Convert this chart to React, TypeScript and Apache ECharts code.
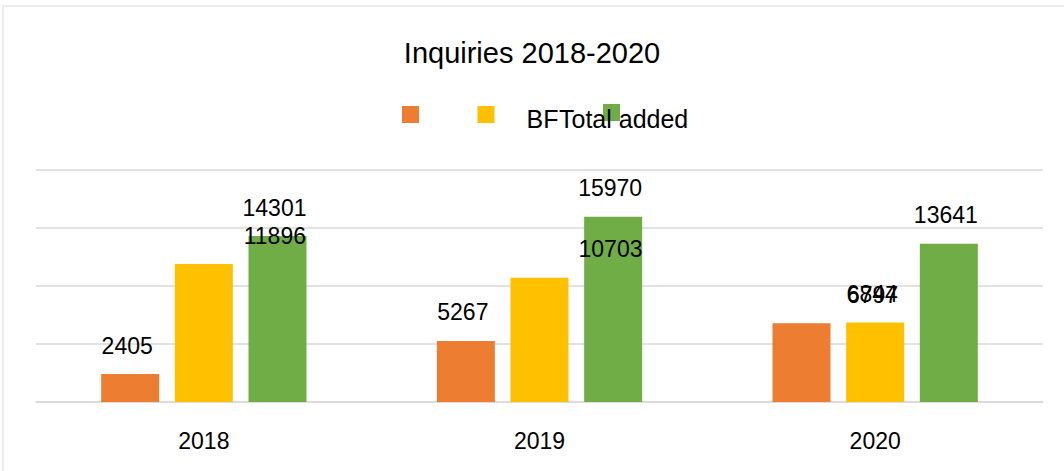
import React, { useEffect, useRef } from "react";
import * as echarts from "echarts";

const categories = ["2018", "2019", "2020"];
const seriesNames = ["", "BF", "Total added"];
const orangeValues = [2405, 5267, 6797];
const yellowValues = [11896, 10703, 6844];
const totalValues = [14301, 15970, 13641];
const colors = ["#ED7D31", "#FFC000", "#70AD47"];
const titleText = "Inquiries 2018-2020";

const FONT = "'Liberation Sans', Arial, sans-serif";

export default function App() {
  const ref = useRef<HTMLDivElement>(null);
  useEffect(() => {
    if (!ref.current) return;
    const chart = echarts.init(ref.current, undefined, { renderer: "svg" });
    const labelBase = {
      show: true,
      position: "top",
      distance: 17,
      fontSize: 23,
      fontFamily: FONT,
      color: "#000000",
    };
    const mk = (vals: number[], shifted: boolean[]) =>
      vals.map((v, i) => ({
        value: v,
        label: { offset: [shifted[i] ? 71 : -3, 0] },
      }));
    const seriesData = [
      mk(orangeValues, [false, false, true]),
      mk(yellowValues, [true, true, false]),
      mk(totalValues, [false, false, false]),
    ];
    chart.setOption({
      animation: false,
      backgroundColor: "#ffffff",
      title: {
        text: titleText,
        left: "center",
        top: 33,
        textStyle: { fontSize: 29, fontWeight: "normal", fontFamily: FONT, color: "#000000" },
      },
      grid: { left: 36, right: 21, top: 170, bottom: 69, containLabel: false },
      xAxis: {
        type: "category",
        data: categories,
        axisTick: { show: false },
        axisLine: { lineStyle: { color: "#D9D9D9", width: 1.5 } },
        axisLabel: { fontSize: 23, fontFamily: FONT, color: "#000000", margin: 27 },
      },
      yAxis: {
        type: "value",
        min: 0,
        max: 20000,
        interval: 5000,
        axisLabel: { show: false },
        axisLine: { show: false },
        axisTick: { show: false },
        splitLine: { lineStyle: { color: "#D9D9D9", width: 1.5 } },
      },
      series: seriesData.map((d, i) => ({
        type: "bar",
        name: seriesNames[i],
        data: d,
        barWidth: 58,
        barGap: "27%",
        itemStyle: { color: colors[i] },
        label: labelBase,
      })),
      graphic: [
        {
          type: "rect",
          shape: { x: 3, y: 6, width: 1100, height: 500 },
          style: { fill: "none", stroke: "#D9D9D9", lineWidth: 1 },
          silent: true,
        },
        { type: "rect", shape: { x: 402, y: 106, width: 17, height: 17 }, style: { fill: colors[0] } },
        { type: "rect", shape: { x: 477.5, y: 106, width: 17, height: 17 }, style: { fill: colors[1] } },
        { type: "rect", shape: { x: 603, y: 104, width: 17, height: 17 }, style: { fill: colors[2] } },
        {
          type: "text",
          x: 526.5,
          y: 119,
          style: {
            text: seriesNames[1],
            fontSize: 25,
            fontFamily: FONT,
            fill: "#000000",
            textVerticalAlign: "middle",
          },
        },
        {
          type: "text",
          x: 559,
          y: 119,
          style: {
            text: seriesNames[2],
            fontSize: 25,
            fontFamily: FONT,
            fill: "#000000",
            textVerticalAlign: "middle",
          },
        },
      ],
    });
    return () => chart.dispose();
  }, []);
  return (
    <div
      ref={ref}
      style={{ position: "fixed", left: 0, top: 0, width: 1064, height: 471 }}
    />
  );
}
